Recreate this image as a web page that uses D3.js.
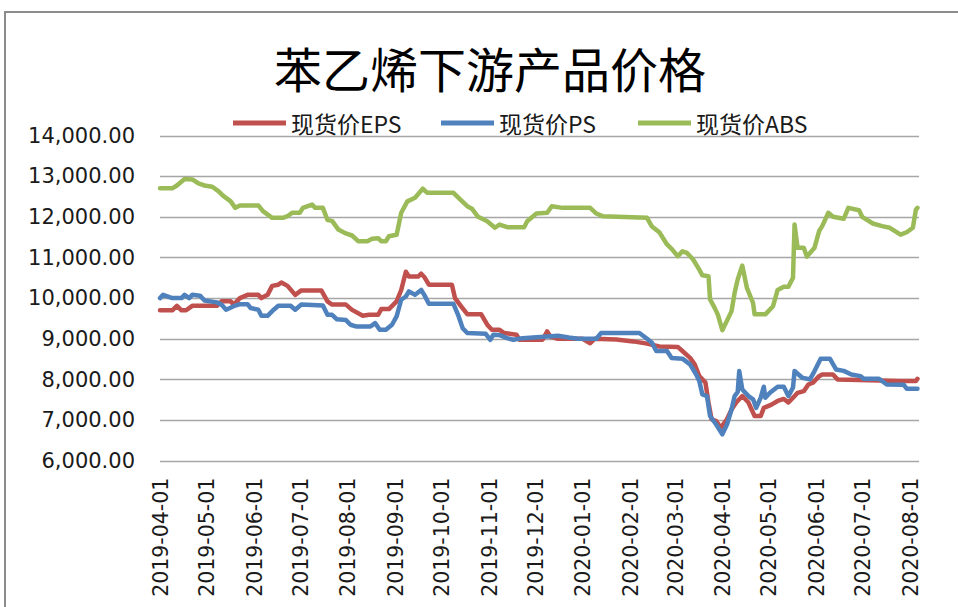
<!DOCTYPE html>
<html>
<head>
<meta charset="utf-8">
<script src="https://cdn.jsdelivr.net/npm/d3@7"></script>
<style>
  body { margin: 0; background: #fff; }
  .ylab { font-family: "DejaVu Sans", sans-serif; font-size: 21px; fill: #1a1a1a; }
  .xlab { font-family: "DejaVu Sans", sans-serif; font-size: 20.5px; fill: #1a1a1a; }
  .legend { font-family: "Noto Sans CJK SC", sans-serif; font-size: 23px; fill: #1a1a1a; }
  .title { font-family: "Noto Sans CJK SC", sans-serif; font-size: 48px; fill: #000; }
</style>
</head>
<body>
<div id="vis"></div>
<script>
// chart data
var chart_title = "苯乙烯下游产品价格";
var series_names = ["现货价EPS", "现货价PS", "现货价ABS"];
var y_ticks = [6000, 7000, 8000, 9000, 10000, 11000, 12000, 13000, 14000];

var eps_dates = ["2019-04-01","2019-04-09","2019-04-12","2019-04-15","2019-04-18","2019-04-22","2019-05-08","2019-05-11","2019-05-17","2019-05-19",
  "2019-05-23","2019-05-28","2019-06-04","2019-06-06","2019-06-10","2019-06-13","2019-06-17","2019-06-19","2019-06-23","2019-06-28",
  "2019-07-02","2019-07-15","2019-07-19","2019-07-22","2019-07-31","2019-08-04","2019-08-11","2019-08-15","2019-08-21","2019-08-23",
  "2019-08-28","2019-09-02","2019-09-05","2019-09-08","2019-09-10","2019-09-16","2019-09-18","2019-09-20","2019-09-23","2019-10-08",
  "2019-10-10","2019-10-14","2019-10-18","2019-10-27","2019-10-31","2019-11-03","2019-11-08","2019-11-11","2019-11-19","2019-11-21",
  "2019-12-06","2019-12-09","2019-12-11","2019-12-16","2020-01-01","2020-01-06","2020-01-09","2020-01-23","2020-02-03","2020-02-12",
  "2020-02-20","2020-03-03","2020-03-06","2020-03-11","2020-03-14","2020-03-17","2020-03-21","2020-03-23","2020-03-25","2020-03-28",
  "2020-03-31","2020-04-04","2020-04-07","2020-04-10","2020-04-14","2020-04-18","2020-04-22","2020-04-26","2020-04-28","2020-05-03",
  "2020-05-07","2020-05-11","2020-05-14","2020-05-17","2020-05-20","2020-05-24","2020-05-27","2020-05-30","2020-06-03","2020-06-05",
  "2020-06-12","2020-06-15","2020-07-26","2020-08-05","2020-08-06"];
var eps_values = [9700,9700,9810,9700,9700,9810,9810,9920,9920,9840,
  10000,10080,10080,10000,10080,10300,10330,10385,10300,10080,
  10190,10190,9920,9840,9840,9710,9565,9590,9590,9730,
  9730,9920,10200,10650,10530,10530,10600,10520,10330,10330,
  10000,9795,9605,9605,9345,9220,9220,9140,9100,8975,
  8975,9180,9055,9000,9000,8890,9000,8980,8935,8880,
  8810,8800,8700,8530,8370,8080,7920,7430,7020,6975,
  6810,7020,7260,7430,7590,7430,7100,7100,7300,7380,
  7470,7520,7430,7550,7670,7710,7875,7920,8080,8120,
  8120,8000,7960,7960,8015];

var ps_dates = ["2019-04-01","2019-04-03","2019-04-09","2019-04-15","2019-04-17","2019-04-20","2019-04-22","2019-04-27","2019-04-30","2019-05-08",
  "2019-05-11","2019-05-14","2019-05-19","2019-05-23","2019-05-28","2019-05-30","2019-06-04","2019-06-06","2019-06-10","2019-06-14",
  "2019-06-17","2019-06-25","2019-06-28","2019-07-02","2019-07-16","2019-07-19","2019-07-22","2019-07-25","2019-07-31","2019-08-03",
  "2019-08-07","2019-08-16","2019-08-19","2019-08-22","2019-08-26","2019-08-30","2019-09-02","2019-09-05","2019-09-08","2019-09-10",
  "2019-09-14","2019-09-18","2019-09-20","2019-09-23","2019-10-09","2019-10-12","2019-10-15","2019-10-18","2019-10-30","2019-11-02",
  "2019-11-04","2019-11-08","2019-11-13","2019-11-17","2019-11-23","2019-12-16","2019-12-23","2019-12-29","2020-01-10","2020-01-13",
  "2020-02-07","2020-02-12","2020-02-15","2020-02-18","2020-02-25","2020-02-28","2020-03-06","2020-03-11","2020-03-15","2020-03-17",
  "2020-03-19","2020-03-22","2020-03-24","2020-03-28","2020-04-01","2020-04-04","2020-04-07","2020-04-09","2020-04-11","2020-04-12",
  "2020-04-14","2020-04-18","2020-04-21","2020-04-23","2020-04-26","2020-04-28","2020-04-29","2020-05-02","2020-05-07","2020-05-11",
  "2020-05-14","2020-05-17","2020-05-18","2020-05-23","2020-05-28","2020-05-31","2020-06-04","2020-06-10","2020-06-14","2020-06-19",
  "2020-06-24","2020-06-30","2020-07-02","2020-07-12","2020-07-17","2020-07-28","2020-07-30","2020-08-06"];
var ps_values = [10000,10080,10000,10000,10080,10000,10080,10060,9940,9895,
  9840,9715,9800,9850,9850,9755,9715,9565,9565,9715,
  9810,9810,9715,9840,9820,9590,9590,9480,9460,9345,
  9300,9300,9385,9220,9220,9345,9550,9960,10040,10165,
  10080,10200,10080,9860,9860,9590,9260,9140,9120,8975,
  9100,9090,9015,8975,9015,9075,9030,9000,9000,9140,
  9140,9000,8910,8700,8700,8525,8510,8370,8120,7960,
  7630,7590,7100,6890,6650,6890,7260,7590,7690,8205,
  7750,7590,7510,7300,7550,7820,7550,7670,7820,7820,
  7590,7800,8205,8040,8000,8205,8510,8510,8245,8210,
  8120,8080,8015,8015,7875,7870,7770,7770];

var abs_dates = ["2019-04-01","2019-04-09","2019-04-12","2019-04-17","2019-04-22","2019-04-26","2019-04-30","2019-05-05","2019-05-09","2019-05-12",
  "2019-05-17","2019-05-20","2019-05-23","2019-06-04","2019-06-07","2019-06-13","2019-06-20","2019-06-23","2019-06-26","2019-07-01",
  "2019-07-03","2019-07-09","2019-07-11","2019-07-16","2019-07-19","2019-07-22","2019-07-26","2019-07-31","2019-08-04","2019-08-08",
  "2019-08-14","2019-08-17","2019-08-21","2019-08-23","2019-08-26","2019-08-28","2019-09-02","2019-09-05","2019-09-09","2019-09-14",
  "2019-09-19","2019-09-22","2019-10-09","2019-10-13","2019-10-18","2019-10-21","2019-10-25","2019-10-31","2019-11-05","2019-11-08",
  "2019-11-13","2019-11-24","2019-11-26","2019-12-02","2019-12-09","2019-12-12","2019-12-19","2020-01-06","2020-01-10","2020-01-14",
  "2020-02-12","2020-02-15","2020-02-20","2020-02-25","2020-02-28","2020-03-03","2020-03-06","2020-03-09","2020-03-13","2020-03-17",
  "2020-03-19","2020-03-23","2020-03-24","2020-03-27","2020-03-29","2020-04-01","2020-04-05","2020-04-07","2020-04-09","2020-04-11",
  "2020-04-14","2020-04-17","2020-04-21","2020-04-22","2020-04-29","2020-05-04","2020-05-07","2020-05-11","2020-05-14","2020-05-17",
  "2020-05-18","2020-05-20","2020-05-24","2020-05-26","2020-05-31","2020-06-03","2020-06-05","2020-06-09","2020-06-12","2020-06-19",
  "2020-06-22","2020-06-29","2020-07-01","2020-07-08","2020-07-14","2020-07-19","2020-07-26","2020-07-30","2020-08-03","2020-08-05",
  "2020-08-06"];
var abs_values = [12700,12700,12770,12930,12920,12820,12770,12740,12630,12520,
  12380,12220,12280,12280,12140,11975,11975,12015,12100,12100,
  12220,12300,12220,12220,11920,11900,11690,11590,11540,11400,
  11400,11460,11475,11400,11400,11520,11560,12100,12380,12470,
  12690,12590,12590,12440,12260,12200,12000,11890,11730,11810,
  11745,11745,11890,12080,12100,12260,12220,12220,12080,12015,
  11975,11770,11620,11320,11210,11030,11150,11110,10950,10700,
  10560,10540,9970,9760,9600,9210,9520,9680,10130,10460,
  10800,10250,9880,9600,9600,9800,10200,10280,10280,10500,
  11810,11240,11240,11020,11240,11650,11770,12100,12000,11950,
  12220,12160,12000,11835,11770,11730,11560,11620,11730,12180,
  12220];

var series_colors = ["#C0504D", "#4F81BD", "#9BBB59"];

var width = 958, height = 607;
var parse = d3.timeParse("%Y-%m-%d");

function to_points(dates, values) {
    return dates.map(function(d, i) { return { date: parse(d), value: values[i] }; });
}
var all_series = [
    to_points(eps_dates, eps_values),
    to_points(ps_dates, ps_values),
    to_points(abs_dates, abs_values)
];

var svg = d3.select("#vis")
    .append("svg")
    .attr("width", width)
    .attr("height", height);

// outer chart frame (only top and left edges show)
svg.append("path")
    .attr("d", "M5,607 L5,12 L958,12")
    .attr("fill", "none")
    .attr("stroke", "#8c8c8c")
    .attr("stroke-width", 2);

var xScale = d3.scaleTime()
    .domain([parse("2019-04-01"), parse("2020-08-07")])
    .range([160, 919]);

var yScale = d3.scaleLinear()
    .domain([6000, 14000])
    .range([460.7, 135.5]);

// gridlines
svg.selectAll("line.grid")
    .data(y_ticks)
    .enter()
    .append("line")
    .attr("class", "grid")
    .attr("x1", 160)
    .attr("x2", 919)
    .attr("y1", function(d) { return Math.round(yScale(d)) + 0.5; })
    .attr("y2", function(d) { return Math.round(yScale(d)) + 0.5; })
    .attr("stroke", "#a6a6a6")
    .attr("stroke-width", 1.3);

// y axis labels
var yAxis = d3.axisLeft(yScale)
    .tickValues(y_ticks)
    .tickSize(0)
    .tickPadding(0)
    .tickFormat(d3.format(",.2f"));

var gy = svg.append("g")
    .attr("transform", "translate(135,0)")
    .call(yAxis);
gy.select(".domain").remove();
gy.selectAll("text")
    .attr("class", "ylab")
    .attr("font-family", null)
    .attr("font-size", null)
    .attr("fill", null);

// x axis labels, rotated
var xAxis = d3.axisBottom(xScale)
    .ticks(d3.timeMonth.every(1))
    .tickSize(0)
    .tickFormat(d3.timeFormat("%Y-%m-%d"));

var gx = svg.append("g")
    .attr("transform", "translate(0,460.7)")
    .call(xAxis);
gx.select(".domain").remove();
gx.selectAll("text")
    .attr("class", "xlab")
    .attr("font-family", null)
    .attr("font-size", null)
    .attr("fill", null)
    .attr("transform", "rotate(-90)")
    .attr("text-anchor", "end")
    .attr("x", -17)
    .attr("y", 0)
    .attr("dy", "0.36em");

// lines
var line = d3.line()
    .x(function(d) { return xScale(d.date); })
    .y(function(d) { return yScale(d.value); });

svg.selectAll("path.series")
    .data(all_series)
    .enter()
    .append("path")
    .attr("class", "series")
    .attr("d", line)
    .attr("fill", "none")
    .attr("stroke", function(d, i) { return series_colors[i]; })
    .attr("stroke-width", 4.5)
    .attr("stroke-linejoin", "round")
    .attr("stroke-linecap", "round");

// title
svg.append("text")
    .attr("class", "title")
    .attr("x", 490)
    .attr("y", 67)
    .attr("text-anchor", "middle")
    .attr("dominant-baseline", "central")
    .text(chart_title);

// legend
var legend_x = [233, 441, 638];
var lg = svg.selectAll("g.legend-item")
    .data(series_names)
    .enter()
    .append("g")
    .attr("class", "legend-item")
    .attr("transform", function(d, i) { return "translate(" + legend_x[i] + ",123)"; });

lg.append("line")
    .attr("x1", 0)
    .attr("x2", 53)
    .attr("y1", 0)
    .attr("y2", 0)
    .attr("stroke", function(d, i) { return series_colors[i]; })
    .attr("stroke-width", 5);

lg.append("text")
    .attr("class", "legend")
    .attr("x", 58)
    .attr("y", 0)
    .attr("dominant-baseline", "central")
    .text(function(d) { return d; });
</script>
</body>
</html>
